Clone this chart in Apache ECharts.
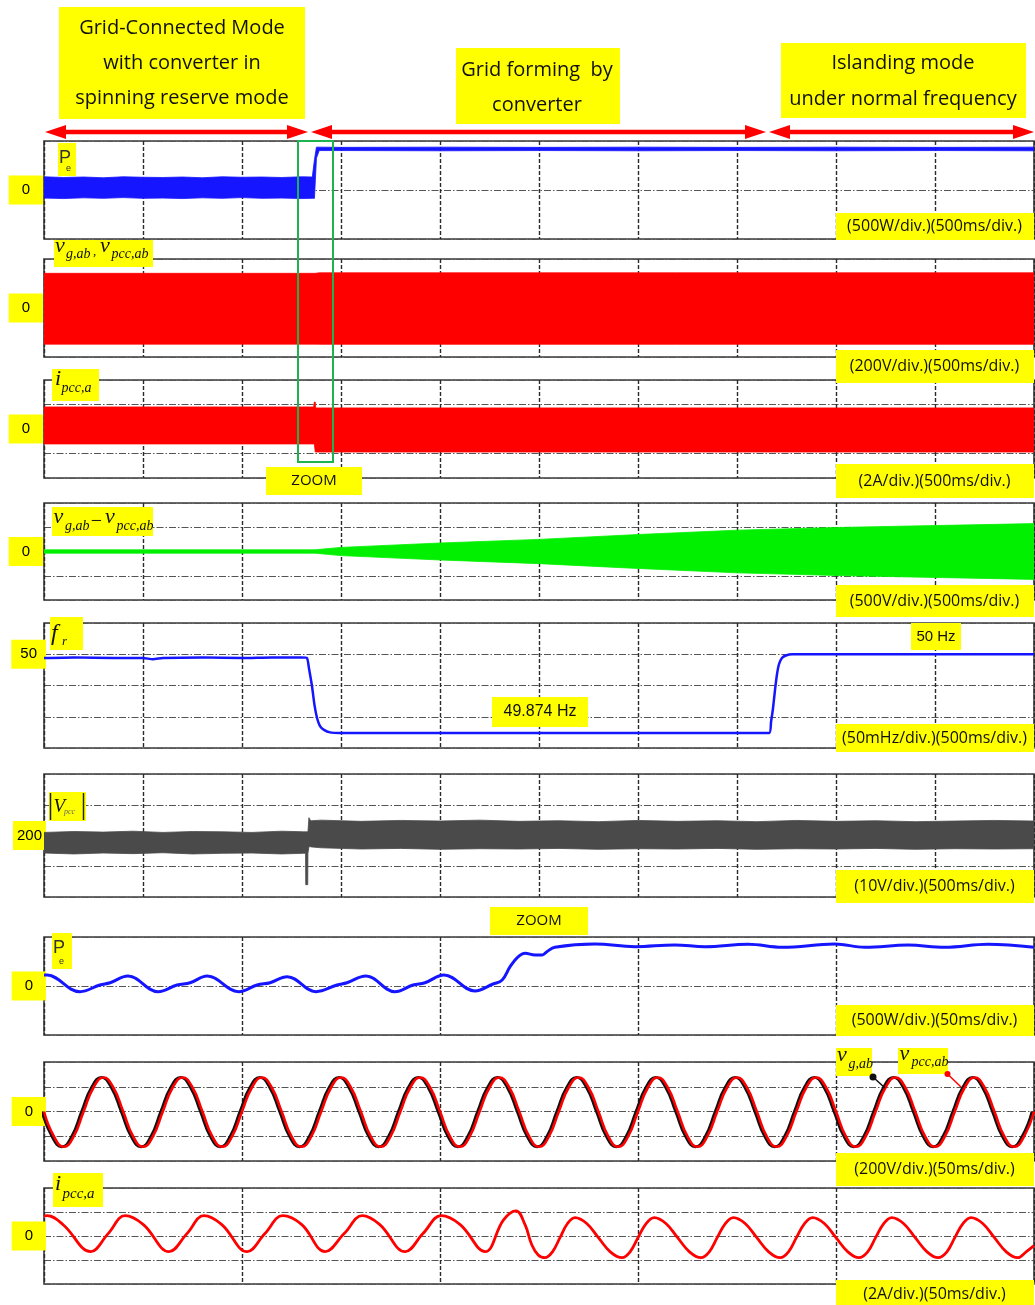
<!DOCTYPE html>
<html><head><meta charset="utf-8">
<script src="https://cdn.jsdelivr.net/npm/echarts@6/dist/echarts.min.js"></script>
<style>html,body{margin:0;padding:0;background:#fff}#c{width:1035px;height:1305px}</style>
</head><body><div id="c"></div>
<script>
// ================= DATA =================
// Top panels: time in seconds (500 ms/div), bottom zoom panels: time in ms (50 ms/div)

// Panel 1: Pe envelope (W)
const pe1Time  = [0,0.1,0.2,0.3,0.4,0.5,0.6,0.7,0.8,0.9,1.0,1.1,1.2,1.3,1.355,1.366,1.376,1.39,1.5,2.0,2.5,3.0,3.5,4.0,4.5,5.0];
const pe1Upper = [270,255,265,250,270,260,255,265,250,270,260,265,255,270,265,620,875,875,870,875,870,875,870,875,870,875];
const pe1Lower = [-165,-175,-160,-170,-155,-170,-165,-175,-160,-170,-155,-170,-165,-175,-170,-170,650,805,805,800,805,800,805,800,805,800];

// Panel 2: vg,ab / vpcc,ab envelope (V)
const v2Time  = [0, 1.37, 1.39, 5.0];
const v2Upper = [283, 283, 287, 287];
const v2Lower = [-295, -295, -296, -296];

// Panel 3: ipcc,a envelope (A)
const i3Time  = [0, 1.362, 1.365, 1.370, 1.372, 5.0];
const i3Upper = [1.8, 1.8, 2.2, 2.2, 1.72, 1.72];
const i3Lower = [-1.22, -1.22, -1.22, -1.88, -1.88, -1.88];

// Panel 4: vg,ab - vpcc,ab envelope (V)
const vd4Time  = [0, 1.369, 1.5, 2.0, 2.5, 3.0, 3.5, 4.0, 4.5, 5.0];
const vd4Upper = [35, 35, 85, 175, 250, 350, 440, 495, 535, 575];
const vd4Lower = [-35, -35, -85, -175, -250, -350, -440, -495, -535, -575];

// Panel 5: fr (Hz)
const fr5Time = [0,0.15,0.35,0.5,0.55,0.6,0.8,1.0,1.15,1.3,1.328,1.338,1.354,1.366,1.379,1.394,1.414,1.444,1.495,2.5,3.662,3.672,3.682,3.692,3.702,3.712,3.727,3.747,3.778,4.5,5.0];
const fr5Val  = [49.994,49.995,49.994,49.994,49.992,49.994,49.995,49.994,49.995,49.995,49.994,49.978,49.948,49.919,49.898,49.885,49.879,49.875,49.874,49.874,49.874,49.892,49.914,49.943,49.968,49.984,49.994,49.998,50.0,50.0,50.0];

// Panel 6: |Vpcc| envelope (V)
const vm6Time  = [0,0.15,0.3,0.45,0.6,0.75,0.9,1.05,1.2,1.31,1.321,1.322,1.332,1.333,1.338,1.342,1.35,1.4,1.6,1.8,2.0,2.2,2.4,2.6,2.8,3.0,3.2,3.4,3.6,3.8,4.0,4.2,4.4,4.6,4.8,5.0];
const vm6Upper = [201.0,201.3,201.1,201.4,201.0,201.3,201.2,201.0,201.4,201.2,201.2,201.2,201.2,201.2,205.8,205.2,204.8,205.0,204.6,204.9,204.7,205.0,204.6,204.8,204.5,204.9,204.6,204.8,204.5,204.9,204.6,204.8,204.5,204.7,204.9,204.7];
const vm6Lower = [194.3,194.0,194.3,194.1,194.4,194.0,194.2,194.3,194.0,194.2,194.2,184.0,184.0,194.2,196.3,196.4,196.3,196.0,195.6,195.8,195.5,195.7,195.6,195.8,195.5,195.7,195.6,195.8,195.5,195.7,195.6,195.8,195.5,195.7,195.6,195.7];

// Panel 7: Pe zoom (W), time ms
const pe7Time = [0,0.8,9.1,14.1,16.7,21.2,28.8,33.6,36.9,41.2,49.2,53.8,57.1,61.4,68.7,74.0,76.5,81.3,88.6,93.2,96.2,101.0,108.8,113.4,115.7,117.7,119.7,121.5,124.0,125.8,127.0,129.0,139.1,149.2,159.3,166.9,177.8,186.4,199.7,207.3,218.2,227.5,238.4,250];
const pe7Val  = [225,224,-116,20,67,204,-116,20,67,204,-116,20,67,190,-116,20,67,204,-116,20,67,224,-100,41,122,394,592,667,633,633,700,790,857,802,837,802,851,790,857,790,837,790,851,790];

// Panel 8: vg,ab and vpcc,ab zoom (V), samples every 2.5 ms
const zoomTimeMs = [0,2.5,5,7.5,10,12.5,15,17.5,20,22.5,25,27.5,30,32.5,35,37.5,40,42.5,45,47.5,50,52.5,55,57.5,60,62.5,65,67.5,70,72.5,75,77.5,80,82.5,85,87.5,90,92.5,95,97.5,100,102.5,105,107.5,110,112.5,115,117.5,120,122.5,125,127.5,130,132.5,135,137.5,140,142.5,145,147.5,150,152.5,155,157.5,160,162.5,165,167.5,170,172.5,175,177.5,180,182.5,185,187.5,190,192.5,195,197.5,200,202.5,205,207.5,210,212.5,215,217.5,220,222.5,225,227.5,230,232.5,235,237.5,240,242.5,245,247.5,250];
const vpcc8Val = [0,-201,-285,-201,0,194,275,194, 0,-201,-285,-201,0,194,275,194, 0,-201,-285,-201,0,194,275,194, 0,-201,-285,-201,0,194,275,194,
  0,-201,-285,-201,0,194,275,194, 0,-201,-285,-201,0,194,275,194, 0,-201,-285,-201,0,194,275,194, 0,-201,-285,-201,0,194,275,194,
  0,-201,-285,-201,0,194,275,194, 0,-201,-285,-201,0,194,275,194, 0,-201,-285,-201,0,194,275,194, 0,-201,-285,-201,0,194,275,194, 0,-201,-285,-201,0];
const vg8Val   = [0,-201,-285,-201,0,194,275,194, 0,-201,-285,-201,0,194,275,194, 0,-201,-285,-201,0,194,275,194, 0,-201,-285,-201,0,194,275,194,
  0,-201,-285,-201,0,194,275,194, 0,-201,-285,-201,0,194,275,194, 0,-201,-285,-201,0,194,275,194, 0,-201,-285,-201,0,194,275,194,
  0,-201,-285,-201,0,194,275,194, 0,-201,-285,-201,0,194,275,194, 0,-201,-285,-201,0,194,275,194, 0,-201,-285,-201,0,194,275,194, 0,-201,-285,-201,0];
const vgLeadMs = 0.5;

// Panel 9: ipcc,a zoom (A), time ms
const i9Time = [0,0.8,4.9,11.8,16.2,20.5,25.1,31.6,36.1,40.4,44.9,51.3,55.8,60.3,65.1,71.0,75.8,80.4,84.8,91.2,95.7,100.3,105.1,111.4,116.0,119.2,121.5,123.2,124.8,126.5,
  128.4,130.3,132.2,134.1,137.05,140.0,143.0,146.0, 148.0,150.0,152.05,154.1,157.05,160.0,163.0,165.9, 168.0,170.0,172.05,174.1,177.05,180.0,183.0,185.9,
  188.0,190.0,192.05,194.1,197.05,200.0,203.0,205.8, 208.0,210.0,212.05,214.1,217.05,220.0,223.0,225.8, 228.0,230.0,232.05,234.1,237.05,240.0,243.0,245.9, 248.0,250.0];
const i9Val  = [1.66,1.69,0.92,-1.31,0.2,1.69,0.95,-1.31,0.2,1.69,0.95,-1.31,0.2,1.69,0.95,-1.31,0.2,1.69,0.95,-1.31,0.2,1.69,0.95,-1.31,1.33,2.1,0.92,-0.75,-1.58,-1.81,
  -1.32,-0.14,1.04,1.53,1.04,-0.14,-1.32,-1.81, -1.32,-0.14,1.04,1.53,1.04,-0.14,-1.32,-1.81, -1.32,-0.14,1.04,1.53,1.04,-0.14,-1.32,-1.81,
  -1.32,-0.14,1.04,1.53,1.04,-0.14,-1.32,-1.81, -1.32,-0.14,1.04,1.53,1.04,-0.14,-1.32,-1.81, -1.32,-0.14,1.04,1.53,1.04,-0.14,-1.32,-1.81, -1.32,-0.8];

// ================= LAYOUT =================
const panels = [
  {top:141, height:98},  {top:259, height:98},  {top:380, height:98},
  {top:503, height:97},  {top:623, height:125}, {top:774, height:123},
  {top:937, height:98},  {top:1062, height:99}, {top:1188, height:96}
];
const grids = panels.map(p => ({left:44, top:p.top, width:990, height:p.height, show:true,
  borderColor:'#3a3a3a', borderWidth:1.6, backgroundColor:'#fff', containLabel:false, outerBoundsMode:'none'}));

function xAx(gi, zoom){
  return {gridIndex:gi, type:'value', min:0, max: zoom?250:5, interval: zoom?50:0.5,
    axisLine:{show:false}, axisTick:{show:false}, axisLabel:{show:false},
    splitLine:{show:true, lineStyle:{color:'#2a2a2a', type:[4,2], width:1.4}}};
}
function yAx(gi, min, max, interval, lv, lt, pad, margin){
  return {gridIndex:gi, type:'value', min, max, interval,
    axisLine:{show:false}, axisTick:{show:false},
    splitLine:{show:true, lineStyle:{color:'#555', type:[7,2,1.5,2], width:1.2}},
    axisLabel:{show:true, customValues:[lv], formatter:()=>lt, backgroundColor:'#ffff00',
      padding:pad, color:'#000', fontSize:15, fontFamily:'Liberation Sans', margin:margin, lineHeight:15}};
}
const xAxes = [0,1,2,3,4,5,6,7,8].map(i => xAx(i, i>=6));
const yAxes = [
  yAx(0,-1000,1000,1000,0,'0',[7,13,7,13],1),
  yAx(1,-400,400,200,0,'0',[7,13,7,13],1),
  yAx(2,-4,4,2,0,'0',[7,13,7,13],1),
  yAx(3,-1000,1000,500,0,'0',[7,13,7,13],1),
  yAx(4,49.85,50.05,0.05,50,'50',[7,9,7,9],-2),
  yAx(5,180,220,10,200,'200',[7,4,7,4],-2),
  yAx(6,-1000,1000,1000,0,'0',[7,13,7,13],-2),
  yAx(7,-400,400,200,0,'0',[7,13,7,13],-2),
  yAx(8,-4,4,2,0,'0',[7,13,7,13],-2)
];

function band(gi, t, up, lo, color){
  return {type:'custom', xAxisIndex:gi, yAxisIndex:gi, silent:true, clip:true, z:3,
    data:[[t[0], up[0]]],
    renderItem:function(params, api){
      const pts=[];
      for(let i=0;i<t.length;i++) pts.push(api.coord([t[i], up[i]]));
      for(let i=t.length-1;i>=0;i--) pts.push(api.coord([t[i], lo[i]]));
      return {type:'polygon', shape:{points:pts}, style:{fill:color, stroke:color, lineWidth:0.8}};
    }};
}
function line(gi, t, v, color, width, smooth, shift){
  return {type:'line', xAxisIndex:gi, yAxisIndex:gi, silent:true, symbol:'none', showSymbol:false,
    smooth:smooth||false, clip:true, z:4,
    data:t.map((x,i)=>[x-(shift||0), v[i]]), lineStyle:{color, width}};
}

const series = [
  band(0, pe1Time, pe1Upper, pe1Lower, '#1515ff'),
  band(1, v2Time, v2Upper, v2Lower, '#ff0000'),
  band(2, i3Time, i3Upper, i3Lower, '#ff0000'),
  band(3, vd4Time, vd4Upper, vd4Lower, '#00f000'),
  line(4, fr5Time, fr5Val, '#1515ff', 2.5, 0.2),
  band(5, vm6Time, vm6Upper, vm6Lower, '#4a4a4a'),
  line(6, pe7Time, pe7Val, '#1515ff', 3, 0.4),
  line(7, zoomTimeMs, vg8Val, '#111', 2.8, 0.5, vgLeadMs),
  line(7, zoomTimeMs, vpcc8Val, '#ff0000', 2.6, 0.5),
  line(8, i9Time, i9Val, '#ff0000', 2.8, 0.4)
];

// ================= ANNOTATIONS =================
const G = [];
const Y = '#ffff00';
function box(x,y,w,h){ G.push({type:'rect', shape:{x,y,width:w,height:h}, style:{fill:Y}, z:100, silent:true}); }
function txt(x,y,s,font,align,fill){ G.push({type:'text', x, y, silent:true, z:101,
  style:{text:s, font, fill:fill||'#111', textAlign:align||'center', align:align||'center', textVerticalAlign:'middle', verticalAlign:'middle'}}); }
function mt(x, bl, s, size, italic, fam, fill){ // baseline-positioned text
  txt(x, bl - 0.34*size, s, (italic?'italic ':'') + size + 'px ' + fam, 'left', fill);
}
const SER = '"Liberation Serif"', SANS = '"Liberation Sans"', OS = '"Open Sans"';

// header boxes
box(59,7,246,112);
txt(182,28,'Grid-Connected Mode','20px '+OS); txt(182,63,'with converter in','20px '+OS); txt(182,98,'spinning reserve mode','20px '+OS);
box(456,48,164,76);
txt(537,70,'Grid forming  by','20px '+OS); txt(537,105,'converter','20px '+OS);
box(781,43,245,75);
txt(903,63,'Islanding mode','20px '+OS); txt(903,99,'under normal frequency','20px '+OS);

// red double arrows
function arrow(x1,x2,y){
  G.push({type:'rect', shape:{x:x1+15, y:y-2.3, width:x2-x1-30, height:4.6}, style:{fill:'#ff0000'}, z:100, silent:true});
  G.push({type:'polygon', shape:{points:[[x1,y],[x1+21,y-7],[x1+21,y+7]]}, style:{fill:'#ff0000'}, z:100, silent:true});
  G.push({type:'polygon', shape:{points:[[x2,y],[x2-21,y-7],[x2-21,y+7]]}, style:{fill:'#ff0000'}, z:100, silent:true});
}
arrow(45,308,132); arrow(311,766,132); arrow(769,1034,132);

// green zoom window
G.push({type:'rect', shape:{x:298, y:141, width:35, height:321}, style:{fill:'none', stroke:'#1db34f', lineWidth:2}, z:99, silent:true});
box(266,467,96,28); txt(314,481,'ZOOM','15px '+OS);
box(490,907,98,28); txt(539,921,'ZOOM','15px '+OS);

// scale labels
const scl = [[213,27,'(500W/div.)(500ms/div.)'],[350,33,'(200V/div.)(500ms/div.)'],[464,34,'(2A/div.)(500ms/div.)'],
  [585,32,'(500V/div.)(500ms/div.)'],[724,28,'(50mHz/div.)(500ms/div.)'],[870,33,'(10V/div.)(500ms/div.)'],
  [1005,31,'(500W/div.)(50ms/div.)'],[1153,33,'(200V/div.)(50ms/div.)'],[1280,25,'(2A/div.)(50ms/div.)']];
scl.forEach(s => { box(836,s[0],198,s[1]); txt(934.5, s[0]+s[1]/2+ (s[1]<27?2:0), s[2], '16px '+OS); });

box(911,623,50,27); txt(936,636.5,'50 Hz','15px '+SANS);
box(492,697,96,30); txt(540,712,'49.874 Hz','16px '+SANS);

// signal name labels
box(58,143,18,33); mt(59,164.5,'P',18,false,SANS,'#333'); mt(66,172,'e',9,false,SANS,'#333');
box(54,240,99,27); mt(55,253.5,'v',22,true,SER); mt(66,259.5,'g,ab',14,true,SER); mt(93,256,',',13,false,SER);
  mt(100,253.5,'v',22,true,SER); mt(111.5,259.5,'pcc,ab',14,true,SER);
box(52,369,47,32); mt(55,386.5,'i',22,true,SER); mt(61.5,393,'pcc,a',14,true,SER);
box(52,507,101,29); mt(53.5,525,'v',22,true,SER); mt(65,531,'g,ab',14,true,SER); txt(96.5,521.5,'\u2212','20px '+SER);
  mt(105,525,'v',22,true,SER); mt(116.5,531,'pcc,ab',14,true,SER);
box(50,617,33,33); mt(51,641.5,'f',24,true,SER); mt(62,645.5,'r',13,true,SER);
box(49,792,37,29); mt(53.5,813,'V',19,true,SER); mt(64,815,'pcc',8,true,SER,'#666');
G.push({type:'line', shape:{x1:50.5,y1:793,x2:50.5,y2:820}, style:{stroke:'#222', lineWidth:1.5}, z:101, silent:true});
G.push({type:'line', shape:{x1:83.5,y1:793,x2:83.5,y2:820}, style:{stroke:'#222', lineWidth:1.5}, z:101, silent:true});
box(52,933,20,36); mt(53,954.5,'P',18,false,SANS,'#333'); mt(59,965,'e',9,false,SANS,'#333');
box(836,1048,36,28); mt(837,1063,'v',22,true,SER); mt(848.5,1069,'g,ab',14,true,SER);
box(898,1048,50,26); mt(899.5,1061.5,'v',22,true,SER); mt(911.5,1067.5,'pcc,ab',14,true,SER);
box(53,1173,50,34); mt(55,1191.5,'i',22,true,SER); mt(62.5,1199,'pcc,a',15,true,SER);

// pointers in panel 8
G.push({type:'line', shape:{x1:873,y1:1077,x2:885,y2:1088}, style:{stroke:'#111', lineWidth:1.5}, z:101, silent:true});
G.push({type:'circle', shape:{cx:873,cy:1077,r:3.5}, style:{fill:'#111'}, z:101, silent:true});
G.push({type:'line', shape:{x1:947.5,y1:1074,x2:961,y2:1087}, style:{stroke:'#ff0000', lineWidth:1.5}, z:101, silent:true});
G.push({type:'circle', shape:{cx:947.5,cy:1074,r:3}, style:{fill:'#ff0000'}, z:101, silent:true});

const chart = echarts.init(document.getElementById('c'), null, {renderer:'canvas'});
chart.setOption({
  animation:false, backgroundColor:'#fff',
  grid:grids, xAxis:xAxes, yAxis:yAxes, series:series,
  graphic:{elements:G}
});
</script></body></html>
